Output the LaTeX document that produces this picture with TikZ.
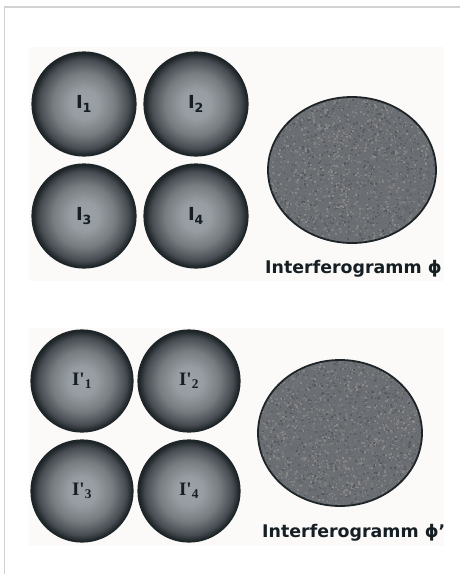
\documentclass[tikz,border=0pt]{standalone}
\usepackage{fontspec}
\setsansfont{DejaVu Sans}
\newfontfamily\serifbold{Liberation Serif}
\usetikzlibrary{positioning}

\definecolor{framegray}{HTML}{D2D2D2}
\definecolor{panelbg}{HTML}{FCFAF8}
\definecolor{ballcen}{HTML}{9CA2A7}
\definecolor{ballmid}{HTML}{767C80}
\definecolor{balledge}{HTML}{464C51}
\definecolor{ballrim}{HTML}{1E2529}
\definecolor{speckdark}{HTML}{53585D}
\definecolor{speckmid}{HTML}{6B6E72}
\definecolor{specklight}{HTML}{8C8A8B}
\definecolor{inkdark}{HTML}{141E23}

% sphere look for the intensity images
\pgfdeclareradialshading{ballshade}{\pgfpoint{0bp}{0bp}}{%
  color(0bp)=(ballcen); color(7bp)=(ballcen!85!ballmid);
  color(15bp)=(ballmid); color(21.5bp)=(balledge);
  color(24.5bp)=(ballrim); color(50bp)=(ballrim)}

\begin{document}
\begin{tikzpicture}[x=1pt, y=-1pt,
    ball/.style={circle, minimum size=104pt, inner sep=0pt,
      shading=ballshade, draw=ballrim, line width=1.2pt,
      text=inkdark, font=\sffamily\bfseries\fontsize{18}{20}\selectfont},
    ballp/.style={ball, minimum size=102pt,
      font=\serifbold\bfseries\fontsize{19}{21}\selectfont},
    caption/.style={anchor=base west, inner sep=0pt, text=inkdark,
      font=\sffamily\bfseries\fontsize{17.4}{20}\selectfont}
  ]
  \useasboundingbox (0,0) rectangle (460,574);
  \fill[white] (0,0) rectangle (460,574);
  \draw[framegray, line width=1.5pt] (4.5,574) -- (4.5,7) -- (460,7);

  % panels
  \fill[panelbg] (29,47) rectangle (444,281);
  \fill[panelbg] (29,328) rectangle (444,546);

  % intensity images, first set
  \node[ball] (i1) at (84,104) {I\textsubscript{1}};
  \node[ball] (i2) at (196,104) {I\textsubscript{2}};
  \node[ball] (i3) at (84,216) {I\textsubscript{3}};
  \node[ball] (i4) at (196,216) {I\textsubscript{4}};

  % intensity images, second set
  \node[ballp] (j1) at (82,381) {I'\textsubscript{1}};
  \node[ballp] (j2) at (189,381) {I'\textsubscript{2}};
  \node[ballp] (j3) at (82,491) {I'\textsubscript{3}};
  \node[ballp] (j4) at (189,491) {I'\textsubscript{4}};

  % speckled interferograms
  \pgfmathsetseed{4711}
  \foreach \cx/\cy/\rx/\ry/\nm in {352/170/84/73/phi, 340/433/82/73/phip} {
    \begin{scope}
      \clip (\cx,\cy) ellipse [x radius=\rx, y radius=\ry];
      \fill[speckmid] (\cx-\rx,\cy-\ry) rectangle (\cx+\rx,\cy+\ry);
      \foreach \k in {1,...,3000} {
        \pgfmathsetmacro\px{\cx+\rx*rand}
        \pgfmathsetmacro\py{\cy+\ry*rand}
        \pgfmathsetmacro\sh{int(50+50*rand)}
        \fill[specklight!\sh!speckdark] (\px,\py) rectangle ++(1.8,1.8);
      }
    \end{scope}
    \draw[ballrim, line width=1.8pt] (\cx,\cy) ellipse [x radius=\rx, y radius=\ry];
    \coordinate (\nm) at (\cx,\cy);
  }

  \node[caption] (philabel) at (265,273) {Interferogramm ϕ};
  \node[caption] (phiplabel) at (262,537) {Interferogramm ϕ'};
\end{tikzpicture}
\end{document}
